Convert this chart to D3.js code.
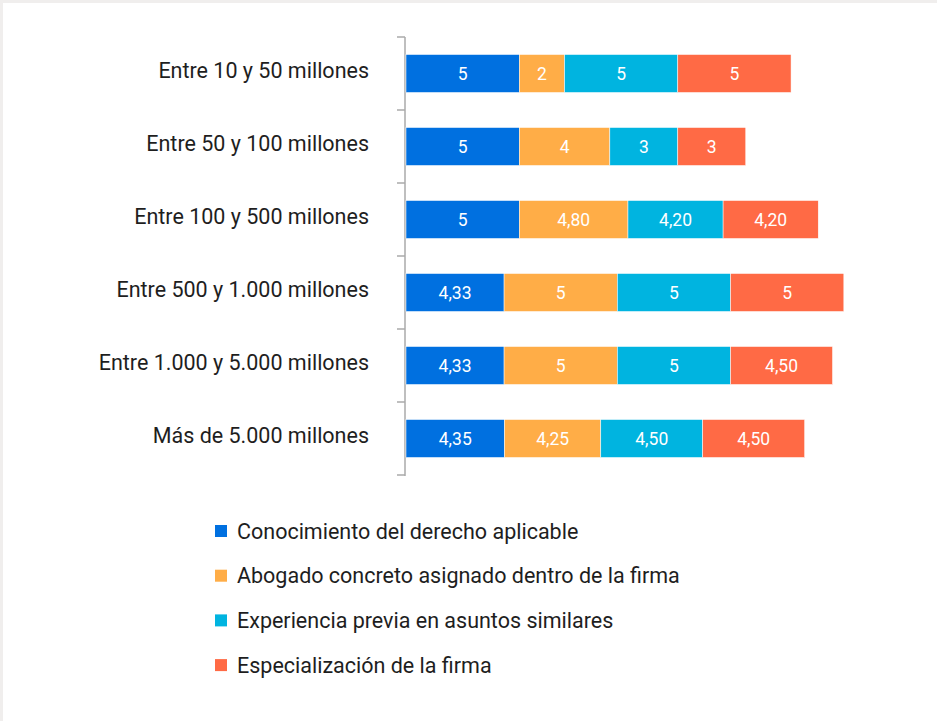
<!DOCTYPE html>
<html>
<head>
<meta charset="utf-8">
<script src="https://cdn.jsdelivr.net/npm/d3@7"></script>
<style>
  html, body { margin: 0; padding: 0; background: #fff; }
  svg { display: block; font-family: Roboto, sans-serif; }
</style>
</head>
<body>
<svg width="937" height="721"></svg>
<script>
"use strict";
// data
const categories = ["Entre 10 y 50 millones", "Entre 50 y 100 millones", "Entre 100 y 500 millones",
    "Entre 500 y 1.000 millones", "Entre 1.000 y 5.000 millones", "Más de 5.000 millones"];
const seriesNames = ["Conocimiento del derecho aplicable", "Abogado concreto asignado dentro de la firma",
    "Experiencia previa en asuntos similares", "Especialización de la firma"];
const conocimiento = [5, 5, 5, 4.33, 4.33, 4.35];
const abogado = [2, 4, 4.8, 5, 5, 4.25];
const experiencia = [5, 3, 4.2, 5, 5, 4.5];
const especializacion = [5, 3, 4.2, 5, 4.5, 4.5];
const colors = ["#0070e0", "#ffad47", "#00b4e0", "#ff6a45"];

let svg = d3.select("svg"),
    width = +svg.attr("width"),
    height = +svg.attr("height");

// light gray frame on top and left
svg.append("rect").attr("x", 0).attr("y", 0).attr("width", width).attr("height", 3).attr("fill", "#f0eeed");
svg.append("rect").attr("x", 0).attr("y", 0).attr("width", 3).attr("height", height).attr("fill", "#f0eeed");

let rows = categories.map((c, i) => ({
    cat: c,
    vals: [conocimiento[i], abogado[i], experiencia[i], especializacion[i]]
}));

let x = d3.scaleLinear().domain([0, 1]).range([406, 406 + 22.65]);
let y = d3.scaleBand().domain(categories).range([37, 475]).paddingInner(0.48).paddingOuter(0.24);

// y axis
let yAxis = d3.axisLeft(y).tickSize(0).tickPadding(36);
let ax = svg.append("g").attr("transform", "translate(405,0)").call(yAxis);
ax.select(".domain").remove();
ax.selectAll("text").attr("font-size", 21.5).attr("fill", "#1e1e1e").attr("font-family", "Roboto, sans-serif")
    .attr("dy", "0.2em");

svg.append("line").attr("x1", 405).attr("x2", 405).attr("y1", 37).attr("y2", 476)
    .attr("stroke", "#aaa").attr("stroke-width", 1.5);
let step = y.step();
let tickYs = d3.range(categories.length + 1).map(i => 37 + i * step);
svg.selectAll(".tk").data(tickYs).enter().append("line")
    .attr("x1", 397).attr("x2", 405)
    .attr("y1", d => d).attr("y2", d => d)
    .attr("stroke", "#aaa").attr("stroke-width", 1.5);

let fmt = v => Number.isInteger(v) ? String(v) : v.toFixed(2).replace(".", ",");

let g = svg.append("g");
rows.forEach(r => {
    let acc = 0;
    r.vals.forEach((v, j) => {
        let x0 = x(acc), x1 = x(acc + v);
        g.append("rect")
            .attr("x", x0).attr("y", y(r.cat))
            .attr("width", x1 - x0).attr("height", y.bandwidth())
            .attr("fill", colors[j])
            .attr("stroke", "#fff").attr("stroke-width", 0.5);
        g.append("text")
            .attr("x", (x0 + x1) / 2).attr("y", y(r.cat) + y.bandwidth() / 2)
            .attr("dy", "0.36em").attr("text-anchor", "middle")
            .attr("fill", "#fff").attr("font-size", 17.5)
            .text(fmt(v));
        acc += v;
    });
});

// legend
let leg = svg.append("g");
seriesNames.forEach((s, i) => {
    let ly = 531 + i * 44.7;
    leg.append("rect").attr("x", 215).attr("y", ly - 6).attr("width", 12).attr("height", 12).attr("fill", colors[i]);
    leg.append("text").attr("x", 237).attr("y", ly).attr("dy", "0.36em")
        .attr("font-size", 21.5).attr("fill", "#1e1e1e").text(s);
});
</script>
</body>
</html>
